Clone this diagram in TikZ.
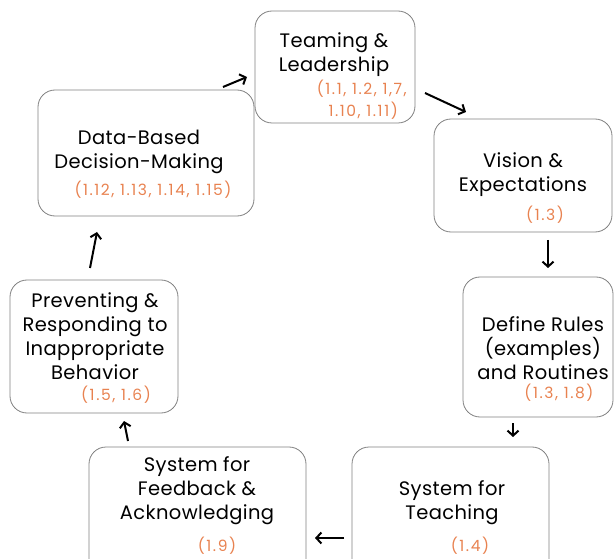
\documentclass[tikz,border=0pt]{standalone}
\usepackage{fontspec}
\setmainfont{Poppins}
\newfontfamily\numfont[LetterSpace=10]{Poppins}
\newfontfamily\mainfont[LetterSpace=2]{Poppins}
\usetikzlibrary{arrows.meta}
\definecolor{boxgray}{RGB}{128,128,128}
\definecolor{refnum}{RGB}{232,130,80}
\tikzset{
  stagebox/.style={draw=boxgray, line width=0.8pt, rounded corners=17pt, inner sep=0pt},
  maintext/.style={font=\mainfont\fontsize{19.5}{24}\selectfont, align=center, inner sep=0pt, anchor=center},
  numtext/.style={font=\numfont\fontsize{15.5}{22}\selectfont, text=refnum, inner sep=0pt},
  flow/.style={line width=2pt, -{Straight Barb[length=5pt,width=11pt,line width=2pt]}}
}
\begin{document}
\begin{tikzpicture}[x=1pt,y=-1pt]
\useasboundingbox (0,0) rectangle (614,559);
\clip (0,0) rectangle (614,559);
% boxes
\node[stagebox, minimum width=160pt, minimum height=112pt] (team) at (335,67) {};
\node[stagebox, minimum width=216pt, minimum height=126pt] (data) at (146,153) {};
\node[stagebox, minimum width=178pt, minimum height=113pt] (vision) at (523,175.5) {};
\node[stagebox, minimum width=150pt, minimum height=140pt] (rules) at (538,347) {};
\node[stagebox, minimum width=168pt, minimum height=133pt] (prev) at (94,346.5) {};
\node[stagebox, minimum width=217pt, minimum height=130pt] (feed) at (197.5,512) {};
\node[stagebox, minimum width=197pt, minimum height=130pt] (teach) at (450.5,512) {};
% texts
\node[maintext] (teamT) at (334,55) {Teaming \&\\Leadership};
\node[numtext, anchor=east] (teamN1) at (407,89) {(1.1, 1.2, 1,7,};
\node[numtext, anchor=east] (teamN2) at (398,111) {1.10, 1.11)};
\node[maintext] (dataT) at (139,152) {Data-Based\\Decision-Making};
\node[numtext] (dataN) at (153,190) {(1.12, 1.13, 1.14, 1.15)};
\node[maintext] (visionT) at (523,175) {Vision \&\\Expectations};
\node[numtext] (visionN) at (545,215) {(1.3)};
\node[maintext] (rulesT) at (543,348) {Define Rules\\(examples)\\and Routines};
\node[numtext] (rulesN) at (559,393) {(1.3, 1.8)};
\node[maintext] (prevT) at (95,336) {Preventing \&\\Responding to\\Inappropriate\\Behavior};
\node[numtext] (prevN) at (116,395) {(1.5, 1.6)};
\node[maintext] (feedT) at (197,491) {System for\\Feedback \&\\Acknowledging};
\node[numtext] (feedN) at (217,546) {(1.9)};
\node[maintext] (teachT) at (452,503) {System for\\Teaching};
\node[numtext] (teachN) at (470,546) {(1.4)};
% arrow ends
\coordinate (a1s) at (223,87);  \coordinate (a1e) at (247,77);
\coordinate (a2s) at (425,93);  \coordinate (a2e) at (466,112);
\coordinate (a3s) at (548,240); \coordinate (a3e) at (548,268);
\coordinate (a4s) at (513,423); \coordinate (a4e) at (513,437);
\coordinate (a5s) at (344,538); \coordinate (a5e) at (315,538);
\coordinate (a6s) at (128,441); \coordinate (a6e) at (124,421);
\coordinate (a7s) at (90,268);  \coordinate (a7e) at (97,232);
\draw[flow] (a1s) -- (a1e);
\draw[flow] (a2s) -- (a2e);
\draw[flow] (a3s) -- (a3e);
\draw[flow] (a4s) -- (a4e);
\draw[flow] (a5s) -- (a5e);
\draw[flow] (a6s) -- (a6e);
\draw[flow] (a7s) -- (a7e);
\end{tikzpicture}
\end{document}
